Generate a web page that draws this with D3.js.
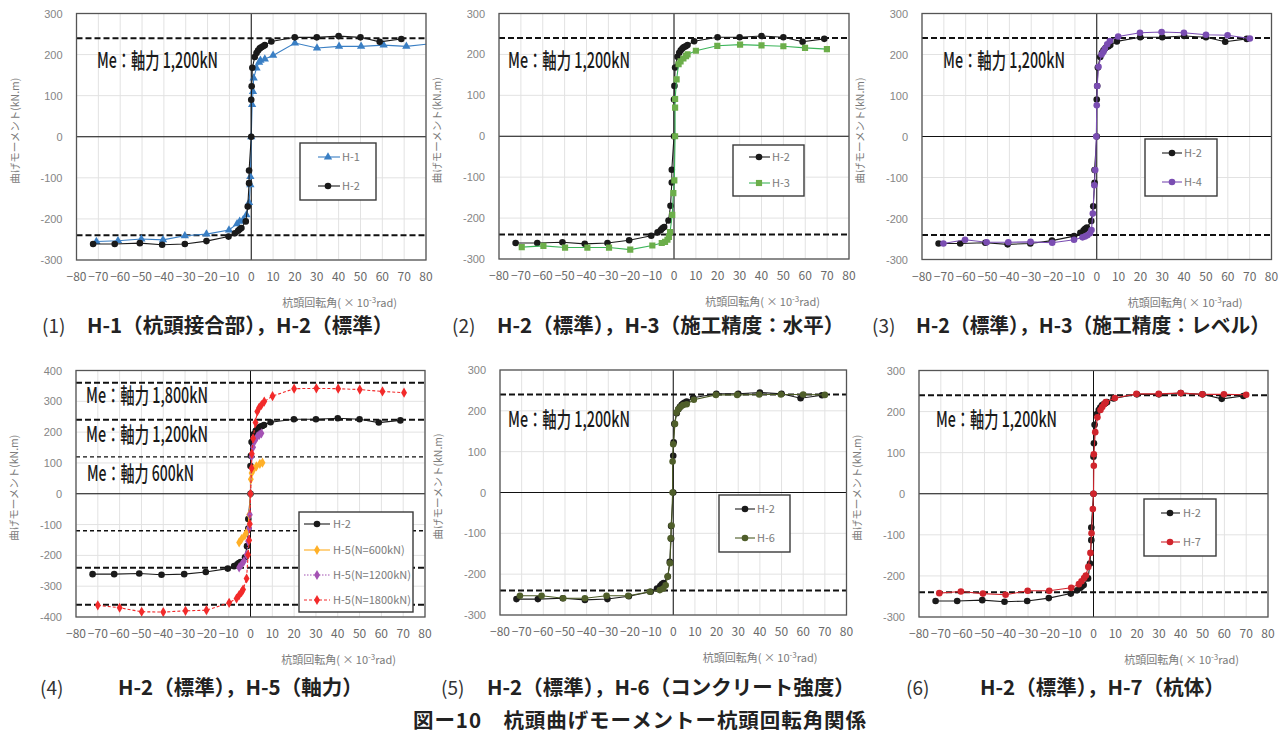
<!DOCTYPE html>
<html><head><meta charset="utf-8">
<script src="https://cdn.jsdelivr.net/npm/d3@7"></script>
<style>body{margin:0;background:#fff}</style>
</head><body><svg id="c" width="1284" height="738" xmlns="http://www.w3.org/2000/svg"></svg>
<script>
// ---------------- data ----------------
const xTicks = [-80,-70,-60,-50,-40,-30,-20,-10,0,10,20,30,40,50,60,70,80];
const yTicks300 = [-300,-200,-100,0,100,200,300];
const yTicks400 = [-400,-300,-200,-100,0,100,200,300,400];
const me1200 = [240,-240];
const me1800 = [360,-360];
const me600 = [120,-120];

const h2 = [[-72.4,-261],[-62.5,-261],[-51,-259],[-40.8,-263],[-30.4,-261],[-20.5,-254],[-10.4,-243],[-7.5,-235],[-6,-229],[-5.3,-225],[-4.5,-222],[-2.5,-206],[-1.6,-170],[-1,-113],[-1,-82],[0,0],[0,90],[0.2,123],[0.5,168],[1.6,194],[2.4,204],[3.1,210],[3.9,215],[4.6,218],[5.4,220],[6.2,223],[9.2,232],[19.9,242],[30,242],[40,245],[50,242],[58.8,231],[68.7,238]];
const h1 = [[-70.9,-255],[-61,-253],[-50.3,-249],[-40.4,-251],[-30.4,-241],[-20.5,-237],[-10.2,-227],[-6.5,-212],[-5.3,-206],[-3.7,-202],[-2.2,-190],[-1,-160],[-0.4,-117],[-0.4,-97],[0,0],[0.4,78],[0.8,110],[1.1,143],[2.4,167],[3.6,181],[4.2,186],[6.2,189],[10,198],[20,228],[30.1,216],[40.2,220],[50.3,220],[60.6,223],[71,220],[85,228]];
const h3 = [[-69.6,-271],[-59.7,-268],[-49.8,-272],[-39.6,-272],[-29.7,-272],[-20,-277],[-9.9,-267],[-5.6,-261],[-4.1,-258],[-3,-253],[-2.3,-246],[-1.8,-234],[-0.8,-192],[-0.3,-139],[0.15,-108],[0.5,0],[0.5,70],[0.5,91],[1.2,139],[2.1,176],[3,183],[4.3,190],[5.5,196],[6.2,200],[10,209],[19.8,221],[30.2,224],[40,222],[50,220],[59.9,216],[69.9,213]];
const h4 = [[-70.2,-261],[-60.3,-252],[-50.4,-258],[-40.5,-258],[-30.3,-257],[-20.4,-259],[-10.4,-252],[-6.5,-246],[-5.4,-244],[-4.3,-241],[-3.1,-236],[-2.4,-228],[-1.8,-188],[-1.1,-119],[-0.7,-82],[-0.2,0],[0,76],[0.2,123],[0.8,170],[2.2,200],[3,206],[3.7,214],[4.8,225],[6,233],[9.8,244],[19.8,253],[29.7,255],[39.9,253],[50,248],[59.9,247],[70.1,239]];
const h5n600 = [[-5.2,-158],[-4.1,-147],[-2.6,-135],[-1.5,-122],[-0.6,-68],[0,0],[0.15,47],[0.5,67],[1.5,80],[2.7,89],[4.3,97],[5.5,101]];
const h5n1200 = [[-5.2,-239],[-4.1,-230],[-3,-219],[-1.8,-198],[-1.1,-154],[-0.6,-111],[-0.3,-68],[0,0],[0.5,121],[1.2,151],[2,172],[3.1,186],[4,191],[5,196]];
const h5n1800 = [[-70,-362],[-60,-370],[-49.9,-383],[-40,-384],[-29.8,-380],[-20.2,-378],[-9.8,-354],[-6.4,-340],[-5.2,-329],[-4.1,-319],[-3.4,-311],[-1.8,-275],[-1.1,-198],[-0.6,-151],[-0.3,-98],[0,0],[0.5,83],[0.6,130],[1.2,180],[2.3,231],[3.1,267],[4,280],[5,288],[6.3,299],[10.1,317],[20,341],[30.2,342],[40.2,341],[50.1,338],[60.5,332],[70.4,328]];
const h6 = [[-70.8,-253],[-60.8,-253],[-50.8,-259],[-40.8,-259],[-30.8,-253],[-20.8,-253],[-10.8,-243],[-6.2,-239],[-4.6,-235],[-3.5,-227],[-2.6,-206],[-1.5,-173],[-1.2,-112],[-0.8,-81],[-0.3,0],[-0.3,76],[0,118],[0.8,168],[1.5,196],[2.3,204],[3.4,210],[4.6,214],[6.2,216],[9.5,227],[19.7,239],[29.5,239],[39.7,240],[49.7,240],[60,240],[70,239]];
const h7 = [[-70.7,-242],[-60.8,-238],[-50.7,-243],[-40.3,-246],[-30.2,-236],[-20.3,-236],[-10.2,-229],[-6.7,-220],[-5.5,-213],[-4.3,-205],[-3.5,-199],[-2.4,-178],[-1.4,-144],[-0.9,-96],[-0.3,-37],[0,0],[0.15,68],[0.15,96],[0.8,150],[1.8,186],[3.2,204],[4,211],[4.9,218],[5.6,223],[9.8,233],[19.7,243],[29.9,243],[40,245],[49.9,242],[59.8,242],[70,241]];

const legendNames = {h1:"H-1",h2:"H-2",h3:"H-3",h4:"H-4",h5a:"H-5(N=600kN)",h5b:"H-5(N=1200kN)",h5c:"H-5(N=1800kN)",h6:"H-6",h7:"H-7"};
const meLabel1200 = "Me：軸力 1,200kN";
const meLabel1800 = "Me：軸力 1,800kN";
const meLabel600 = "Me：軸力 600kN";
const yTitle = "曲げモーメント(kN.m)";
const captionNums = ["(1)","(2)","(3)","(4)","(5)","(6)"];
const captionTexts = ["H-1（杭頭接合部），H-2（標準）","H-2（標準），H-3（施工精度：水平）","H-2（標準），H-3（施工精度：レベル）","H-2（標準），H-5（軸力）","H-2（標準），H-6（コンクリート強度）","H-2（標準），H-7（杭体）"];
const figTitle = "図ー10　杭頭曲げモーメントー杭頭回転角関係";

// ---------------- styles ----------------
const S = {
  h1:{data:h1,color:"#3a7fc4",mcolor:"#3a7fc4",shape:"tri",dash:null},
  h2:{data:h2,color:"#1a1a1a",mcolor:"#1a1a1a",shape:"circle",dash:null},
  h3:{data:h3,color:"#3cb55a",mcolor:"#6cae4a",shape:"square",dash:null},
  h4:{data:h4,color:"#7a4db2",mcolor:"#7a4db2",shape:"circle",dash:null},
  h5a:{data:h5n600,color:"#ffad1f",mcolor:"#ffb028",shape:"diamond",dash:null},
  h5b:{data:h5n1200,color:"#a452b4",mcolor:"#a452b4",shape:"diamond",dash:"1.5,1.5"},
  h5c:{data:h5n1800,color:"#f22a2a",mcolor:"#f22a2a",shape:"diamond",dash:"3,2"},
  h6:{data:h6,color:"#4b5a26",mcolor:"#4f5e2a",shape:"circle",dash:null},
  h7:{data:h7,color:"#d0242c",mcolor:"#d0242c",shape:"circle",dash:null}
};

const panels = [
 {L:76.5,R:426,T:13.5,B:260,yd:[-300,300],yt:yTicks300,series:["h1","h2"],
  me:[{v:me1200,w:2,d:"6,3"}],meText:[{t:meLabel1200,x:97,y:67,w:121}],
  leg:{x0:300,y0:143,x1:376,y1:200,ly:[157,186],lx0:318,lx1:340,mx:328,tx:342,items:["h1","h2"]},
  cap:{nx:42,tx:87,y:333}},
 {L:499,R:849,T:13.5,B:259,yd:[-300,300],yt:yTicks300,series:["h2","h3"],
  me:[{v:me1200,w:2,d:"6,3"}],meText:[{t:meLabel1200,x:508,y:67,w:122}],
  leg:{x0:733,y0:145,x1:804,y1:196,ly:[157,183],lx0:749,lx1:770,mx:759,tx:772,items:["h2","h3"]},
  cap:{nx:452,tx:497,y:333}},
 {L:922,R:1271.5,T:13.5,B:259.5,yd:[-300,300],yt:yTicks300,series:["h2","h4"],
  me:[{v:me1200,w:2,d:"6,3"}],meText:[{t:meLabel1200,x:943,y:67,w:122}],
  leg:{x0:1145,y0:139,x1:1217,y1:196,ly:[153,182],lx0:1162,lx1:1182,mx:1172,tx:1184,items:["h2","h4"]},
  cap:{nx:872,tx:916,y:333,tw:354}},
 {L:76,R:425,T:370.5,B:617,yd:[-400,400],yt:yTicks400,series:["h2","h5a","h5b","h5c"],
  me:[{v:me1800,w:2,d:"6,3"},{v:me1200,w:2,d:"6,3"},{v:me600,w:1.3,d:"4,3"}],
  meText:[{t:meLabel1800,x:86,y:402,w:122},{t:meLabel1200,x:86,y:441,w:122},{t:meLabel600,x:87,y:480,w:107}],
  leg:{x0:299,y0:512,x1:413,y1:612,ly:[524,550,575,600],lx0:304,lx1:330,mx:317,tx:333,items:["h2","h5a","h5b","h5c"]},
  cap:{nx:40,tx:118,y:695}},
 {L:500,R:846.5,T:370,B:615,yd:[-300,300],yt:yTicks300,series:["h2","h6"],
  me:[{v:me1200,w:2,d:"6,3"}],meText:[{t:meLabel1200,x:508,y:426,w:122}],
  leg:{x0:719,y0:495,x1:790,y1:552,ly:[509,538],lx0:735,lx1:755,mx:745,tx:757,items:["h2","h6"]},
  cap:{nx:441,tx:487,y:695}},
 {L:919,R:1268,T:370.5,B:617,yd:[-300,300],yt:yTicks300,series:["h2","h7"],
  me:[{v:me1200,w:2,d:"6,3"}],meText:[{t:meLabel1200,x:936,y:426,w:121}],
  leg:{x0:1144,y0:499,x1:1216,y1:556,ly:[513,542],lx0:1161,lx1:1180,mx:1170,tx:1183,items:["h2","h7"]},
  cap:{nx:906,tx:980,y:695}}
];

const svg = d3.select("#c");
const defs = svg.append("defs");
const FONT = "'Noto Sans CJK JP','Noto Sans',sans-serif";

function marker(g, shape, x, y, color){
  if(shape==="circle"){
    g.append("circle").attr("cx",x).attr("cy",y).attr("r",3.3).attr("fill",color);
  } else {
    const t = {tri:d3.symbolTriangle,square:d3.symbolSquare,diamond:d3.symbolDiamond}[shape];
    const size = {tri:30,square:38,diamond:30}[shape];
    g.append("path").attr("d",d3.symbol(t,size)()).attr("transform",`translate(${x},${y})`).attr("fill",color);
  }
}

panels.forEach((p,i)=>{
  const x = d3.scaleLinear().domain([-80,80]).range([p.L,p.R]);
  const y = d3.scaleLinear().domain(p.yd).range([p.B,p.T]);
  const g = svg.append("g");
  const cid = "clip"+i;
  defs.append("clipPath").attr("id",cid).append("rect")
    .attr("x",p.L).attr("y",p.T).attr("width",p.R-p.L).attr("height",p.B-p.T);

  // grid
  g.append("g").selectAll("line").data(xTicks).join("line")
    .attr("x1",d=>x(d)).attr("x2",d=>x(d)).attr("y1",p.T).attr("y2",p.B)
    .attr("stroke","#e2e2e2").attr("stroke-width",1);
  g.append("g").selectAll("line").data(p.yt).join("line")
    .attr("y1",d=>y(d)).attr("y2",d=>y(d)).attr("x1",p.L).attr("x2",p.R)
    .attr("stroke","#e2e2e2").attr("stroke-width",1);

  // axes through zero
  g.append("line").attr("x1",x(0)).attr("x2",x(0)).attr("y1",p.T).attr("y2",p.B).attr("stroke","#111").attr("stroke-width",1);
  g.append("line").attr("y1",y(0)).attr("y2",y(0)).attr("x1",p.L).attr("x2",p.R).attr("stroke","#111").attr("stroke-width",1);

  // tick labels
  g.append("g").selectAll("text").data(p.yt).join("text")
    .attr("x",p.L-14).attr("y",d=>y(d)+4).attr("text-anchor","end")
    .attr("font-family","'Liberation Sans',sans-serif").attr("font-size",11).attr("fill","#858585")
    .text(d=>String(d));
  g.append("g").selectAll("text").data(xTicks).join("text")
    .attr("x",d=>x(d)).attr("y",p.B+21).attr("text-anchor","middle")
    .attr("font-family",FONT).attr("font-size",12).attr("fill","#6a6a6a")
    .text(d=>d<0?"−"+Math.abs(d):String(d));

  // axis titles
  const xt = g.append("text").attr("x",p.R-29).attr("y",p.B+47).attr("text-anchor","end")
    .attr("font-family",FONT).attr("font-size",11).attr("fill","#7a7a7a");
  xt.append("tspan").text("杭頭回転角( × 10");
  xt.append("tspan").attr("dy",-4).attr("font-size",8).text("-3");
  xt.append("tspan").attr("dy",4).text("rad)");
  g.append("text").attr("transform",`translate(${p.L-58},${(p.T+p.B)/2-6}) rotate(-90)`)
    .attr("text-anchor","middle").attr("font-family",FONT).attr("font-size",10.5).attr("fill","#7a7a7a")
    .text(yTitle);

  // Me lines
  p.me.forEach(m=>{
    g.append("g").selectAll("line").data(m.v).join("line")
      .attr("x1",p.L).attr("x2",p.R).attr("y1",d=>y(d)).attr("y2",d=>y(d))
      .attr("stroke","#111").attr("stroke-width",m.w).attr("stroke-dasharray",m.d);
  });
  p.meText.forEach(t=>{
    g.append("text").attr("x",t.x).attr("y",t.y+1).attr("textLength",t.w).attr("lengthAdjust","spacingAndGlyphs")
      .attr("font-family",FONT).attr("font-size",21).attr("font-weight",500).attr("fill","#1a1a1a").text(t.t);
  });

  // series
  const line = d3.line().x(d=>x(d[0])).y(d=>y(d[1]));
  const sg = g.append("g").attr("clip-path",`url(#${cid})`);
  p.series.forEach(k=>{
    const s = S[k];
    sg.append("path").attr("d",line(s.data)).attr("fill","none").attr("stroke",s.color)
      .attr("stroke-width",1.1).attr("stroke-dasharray",s.dash);
    const mg = sg.append("g");
    s.data.forEach(d=>marker(mg,s.shape,x(d[0]),y(d[1]),s.mcolor));
  });

  // plot border
  g.append("rect").attr("x",p.L).attr("y",p.T).attr("width",p.R-p.L).attr("height",p.B-p.T)
    .attr("fill","none").attr("stroke","#555").attr("stroke-width",1.3);

  // legend
  const L = p.leg;
  const lg = g.append("g");
  lg.append("rect").attr("x",L.x0).attr("y",L.y0).attr("width",L.x1-L.x0).attr("height",L.y1-L.y0)
    .attr("fill","#fff").attr("stroke","#3a3a3a").attr("stroke-width",1.4);
  L.items.forEach((k,j)=>{
    const s = S[k];
    lg.append("line").attr("x1",L.lx0).attr("x2",L.lx1).attr("y1",L.ly[j]).attr("y2",L.ly[j])
      .attr("stroke",s.color).attr("stroke-width",1.1).attr("stroke-dasharray",s.dash);
    marker(lg,s.shape,L.mx,L.ly[j],s.mcolor);
    lg.append("text").attr("x",L.tx).attr("y",L.ly[j]+4).attr("font-family",FONT)
      .attr("font-size",11).attr("fill","#7a7a7a").text(legendNames[k]);
  });

  // caption
  svg.append("text").attr("x",p.cap.nx).attr("y",p.cap.y).attr("font-family",FONT)
    .attr("font-size",19).attr("fill","#333").text(captionNums[i]);
  const ct = svg.append("text").attr("x",p.cap.tx).attr("y",p.cap.y).attr("font-family",FONT)
    .attr("font-size",20.5).attr("font-weight","bold").attr("fill","#222")
    .text(captionTexts[i]);
  if(p.cap.tw) ct.attr("textLength",p.cap.tw).attr("lengthAdjust","spacingAndGlyphs");
});

svg.append("text").attr("x",413).attr("y",728).attr("font-family",FONT).attr("font-size",20.5)
  .attr("font-weight","bold").attr("fill","#222").attr("textLength",453).attr("lengthAdjust","spacing")
  .text(figTitle);
</script>
</body></html>
